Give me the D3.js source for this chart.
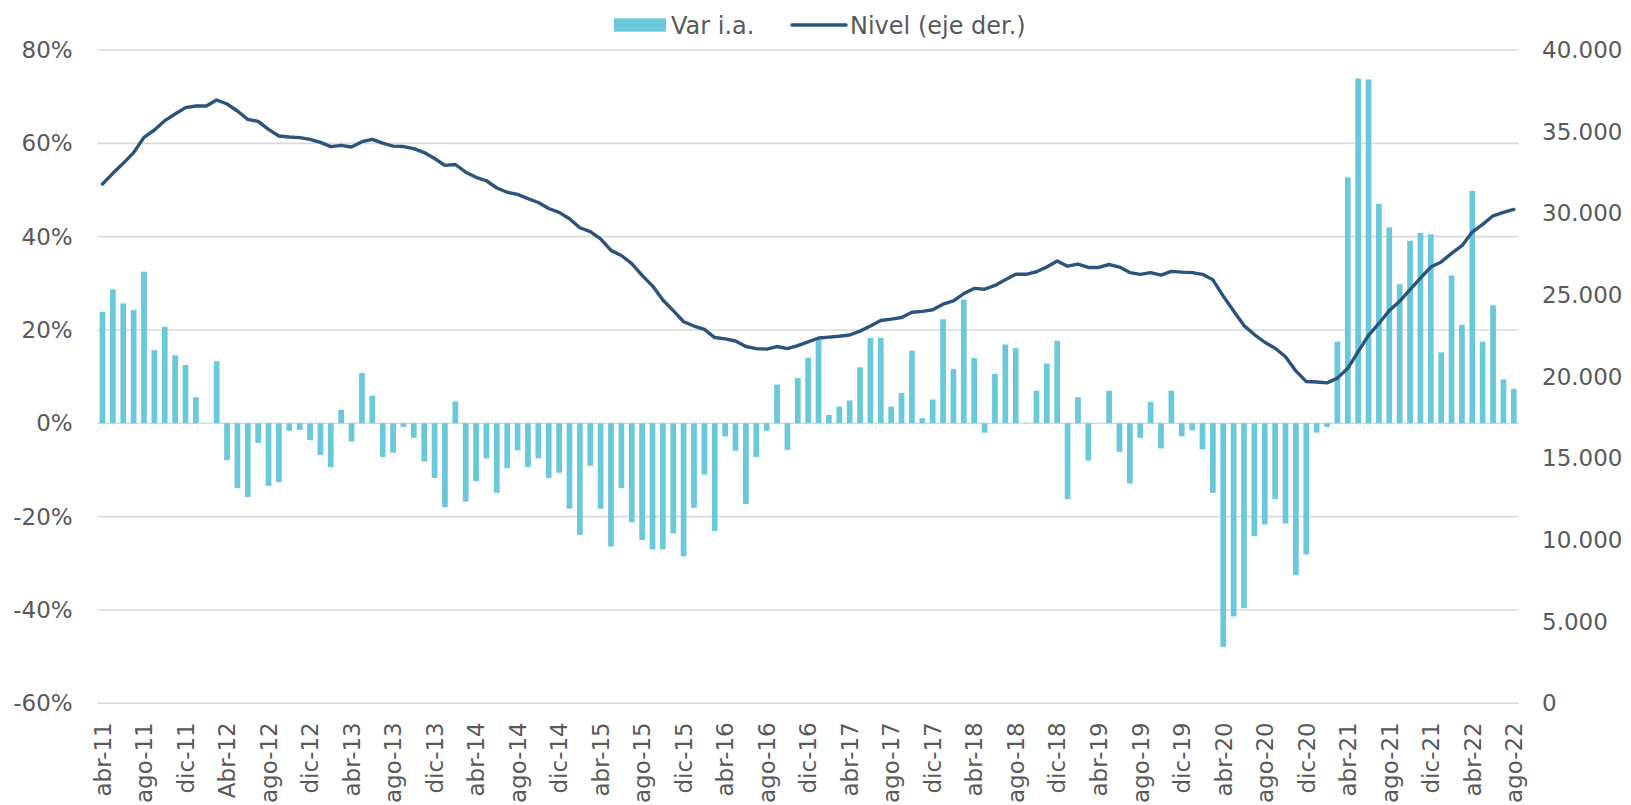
<!DOCTYPE html>
<html>
<head>
<meta charset="utf-8">
<script src="https://cdn.jsdelivr.net/npm/d3@7"></script>
<style>
  html, body { margin: 0; padding: 0; background: #ffffff; }
  svg { display: block; }
  text { font-family: "DejaVu Sans", Verdana, sans-serif; fill: #595959; }
</style>
</head>
<body>
<svg id="chart" width="1631" height="805"></svg>
<script>
// ---------- DATA ----------
const categories = [
  "abr-11","may-11","jun-11","jul-11","ago-11","sep-11","oct-11","nov-11","dic-11",
  "ene-12","feb-12","mar-12","Abr-12","may-12","jun-12","jul-12","ago-12","sep-12","oct-12","nov-12","dic-12",
  "ene-13","feb-13","mar-13","abr-13","may-13","jun-13","jul-13","ago-13","sep-13","oct-13","nov-13","dic-13",
  "ene-14","feb-14","mar-14","abr-14","may-14","jun-14","jul-14","ago-14","sep-14","oct-14","nov-14","dic-14",
  "ene-15","feb-15","mar-15","abr-15","may-15","jun-15","jul-15","ago-15","sep-15","oct-15","nov-15","dic-15",
  "ene-16","feb-16","mar-16","abr-16","may-16","jun-16","jul-16","ago-16","sep-16","oct-16","nov-16","dic-16",
  "ene-17","feb-17","mar-17","abr-17","may-17","jun-17","jul-17","ago-17","sep-17","oct-17","nov-17","dic-17",
  "ene-18","feb-18","mar-18","abr-18","may-18","jun-18","jul-18","ago-18","sep-18","oct-18","nov-18","dic-18",
  "ene-19","feb-19","mar-19","abr-19","may-19","jun-19","jul-19","ago-19","sep-19","oct-19","nov-19","dic-19",
  "ene-20","feb-20","mar-20","abr-20","may-20","jun-20","jul-20","ago-20","sep-20","oct-20","nov-20","dic-20",
  "ene-21","feb-21","mar-21","abr-21","may-21","jun-21","jul-21","ago-21","sep-21","oct-21","nov-21","dic-21",
  "ene-22","feb-22","mar-22","abr-22","may-22","jun-22","jul-22","ago-22"
];

const tickLabels = [
  "abr-11","ago-11","dic-11","Abr-12","ago-12","dic-12","abr-13","ago-13","dic-13",
  "abr-14","ago-14","dic-14","abr-15","ago-15","dic-15","abr-16","ago-16","dic-16",
  "abr-17","ago-17","dic-17","abr-18","ago-18","dic-18","abr-19","ago-19","dic-19",
  "abr-20","ago-20","dic-20","abr-21","ago-21","dic-21","abr-22","ago-22"
];

// Var i.a. (%)
const varIA = [
  23.9, 28.7, 25.7, 24.3, 32.5, 15.7, 20.7, 14.6, 12.5,
  5.6, 0, 13.3, -7.9, -13.9, -15.8, -4.2, -13.4, -12.6, -1.6, -1.4, -3.6,
  -6.8, -9.4, 2.9, -3.9, 10.8, 5.9, -7.2, -6.3, -0.8, -3.1, -8.2, -11.7,
  -18.0, 4.7, -16.8, -12.4, -7.5, -14.9, -9.6, -5.8, -9.4, -7.5, -11.7, -10.6,
  -18.3, -23.9, -9.1, -18.3, -26.4, -13.9, -21.2, -25.0, -27.0, -27.0, -23.6, -28.5,
  -18.1, -11.0, -23.1, -2.8, -5.9, -17.3, -7.2, -1.6, 8.3, -5.7, 9.7, 14.1,
  18.0, 1.8, 3.6, 4.9, 12.0, 18.3, 18.3, 3.6, 6.5, 15.6, 1.1, 5.1,
  22.3, 11.6, 26.5, 14.0, -2.0, 10.6, 16.9, 16.1, 0.1, 7.0, 12.8, 17.7,
  -16.2, 5.6, -8.0, 0, 7.0, -6.1, -12.9, -3.1, 4.6, -5.4, 7.0, -2.8,
  -1.5, -5.6, -14.9, -47.9, -41.4, -39.6, -24.2, -21.7, -16.2, -21.5, -32.5, -28.1,
  -2.0, -0.8, 17.5, 52.7, 73.9, 73.7, 47.0, 42.0, 29.8, 39.1, 40.8, 40.5,
  15.2, 31.7, 21.1, 49.8, 17.5, 25.3, 9.4, 7.4
];

// Nivel (eje der.)
const nivel = [
  31796, 32449, 33061, 33714, 34653, 35102, 35673, 36082, 36469,
  36571, 36571, 36939, 36694, 36265, 35755, 35633, 35143, 34735, 34673, 34633, 34531,
  34347, 34082, 34163, 34061, 34388, 34531, 34297, 34114, 34088, 33957, 33722, 33355,
  32937, 32989, 32518, 32204, 31995, 31550, 31289, 31158, 30896, 30661, 30294, 30059,
  29666, 29117, 28882, 28437, 27731, 27417, 26920, 26200, 25559, 24696, 24042, 23362,
  23100, 22891, 22394, 22315, 22185, 21844, 21714, 21687, 21844, 21714, 21897, 22132,
  22368, 22420, 22472, 22551, 22786, 23100, 23440, 23519, 23623, 23940, 24000, 24094,
  24434, 24644, 25088, 25402, 25350, 25585, 25926, 26266, 26266, 26423, 26710, 27077,
  26763, 26894, 26684, 26684, 26867, 26710, 26370, 26266, 26370, 26213, 26449, 26397,
  26370, 26266, 25926, 24931, 24016, 23126, 22577, 22106, 21740, 21217, 20353, 19699,
  19673, 19621, 19909, 20510, 21530, 22525, 23257, 24042, 24617, 25324, 26030, 26710,
  27024, 27548, 28018, 28856, 29326, 29850, 30059, 30242
];

const leftTicks = [-60, -40, -20, 0, 20, 40, 60, 80];
const rightTicks = [0, 5000, 10000, 15000, 20000, 25000, 30000, 35000, 40000];

// ---------- LAYOUT ----------
const W = 1631, H = 805;
const plot = { left: 97.3, right: 1519, top: 50, bottom: 703.3 };
const barColor = "#6AC8DB";
const lineColor = "#2C5379";
const gridColor = "#D9D9D9";
const fontSize = 23;

const svg = d3.select("#chart");

const x = d3.scaleBand()
  .domain(categories)
  .range([plot.left, plot.right])
  .paddingInner(0.45)
  .paddingOuter(0.225);

const yL = d3.scaleLinear().domain([-60, 80]).range([plot.bottom, plot.top]);
const yR = d3.scaleLinear().domain([0, 40000]).range([plot.bottom, plot.top]);

const esLocale = d3.formatLocale({ decimal: ",", thousands: ".", grouping: [3], currency: ["", " €"] });
const fmtR = esLocale.format(",.0f");

// Gridlines
svg.append("g")
  .selectAll("line")
  .data(leftTicks)
  .join("line")
  .attr("x1", plot.left)
  .attr("x2", plot.right)
  .attr("y1", d => yL(d))
  .attr("y2", d => yL(d))
  .attr("stroke", gridColor)
  .attr("stroke-width", 1.6);

// Bars
svg.append("g")
  .selectAll("rect")
  .data(categories.map((c, i) => ({ c, v: varIA[i] })))
  .join("rect")
  .attr("x", d => x(d.c))
  .attr("width", x.bandwidth())
  .attr("y", d => yL(Math.max(0, d.v)))
  .attr("height", d => Math.abs(yL(d.v) - yL(0)))
  .attr("fill", barColor);

// Line
const line = d3.line()
  .x((d, i) => x(categories[i]) + x.bandwidth() / 2)
  .y(d => yR(d));

svg.append("path")
  .datum(nivel)
  .attr("d", line)
  .attr("fill", "none")
  .attr("stroke", lineColor)
  .attr("stroke-width", 3.4)
  .attr("stroke-linejoin", "round")
  .attr("stroke-linecap", "round");

// Left axis
const gL = svg.append("g")
  .attr("transform", `translate(${plot.left},0)`)
  .call(d3.axisLeft(yL).tickValues(leftTicks).tickFormat(d => d + "%").tickSize(0).tickPadding(24.6));
gL.select(".domain").remove();
gL.selectAll("text").attr("font-size", fontSize).attr("font-family", "DejaVu Sans, Verdana, sans-serif").attr("fill", "#595959");

// Right axis
const gR = svg.append("g")
  .attr("transform", `translate(${plot.right},0)`)
  .call(d3.axisRight(yR).tickValues(rightTicks).tickFormat(fmtR).tickSize(0).tickPadding(23));
gR.select(".domain").remove();
gR.selectAll("text").attr("font-size", fontSize).attr("font-family", "DejaVu Sans, Verdana, sans-serif").attr("fill", "#595959");

// Bottom axis
const tickCats = tickLabels.map((t, k) => categories[k * 4]);
const gB = svg.append("g")
  .attr("transform", `translate(0,${plot.bottom})`)
  .call(d3.axisBottom(x).tickValues(tickCats).tickFormat((d, k) => tickLabels[k]).tickSize(0));
gB.select(".domain").remove();
gB.selectAll("text")
  .attr("font-size", fontSize)
  .attr("font-family", "DejaVu Sans, Verdana, sans-serif")
  .attr("fill", "#595959")
  .attr("transform", "rotate(-90)")
  .attr("text-anchor", "end")
  .attr("x", -19)
  .attr("y", 0)
  .attr("dy", "0.36em");

// Legend
const leg = svg.append("g");
leg.append("rect")
  .attr("x", 614).attr("y", 18.3).attr("width", 52).attr("height", 13.4)
  .attr("fill", barColor);
leg.append("text")
  .attr("x", 671).attr("y", 25).attr("dy", "0.36em")
  .attr("font-size", 24).text("Var i.a.");
leg.append("line")
  .attr("x1", 792).attr("x2", 846).attr("y1", 25).attr("y2", 25)
  .attr("stroke", lineColor).attr("stroke-width", 3.4).attr("stroke-linecap", "round");
leg.append("text")
  .attr("x", 850).attr("y", 25).attr("dy", "0.36em")
  .attr("font-size", 24).text("Nivel (eje der.)");
</script>
</body>
</html>
